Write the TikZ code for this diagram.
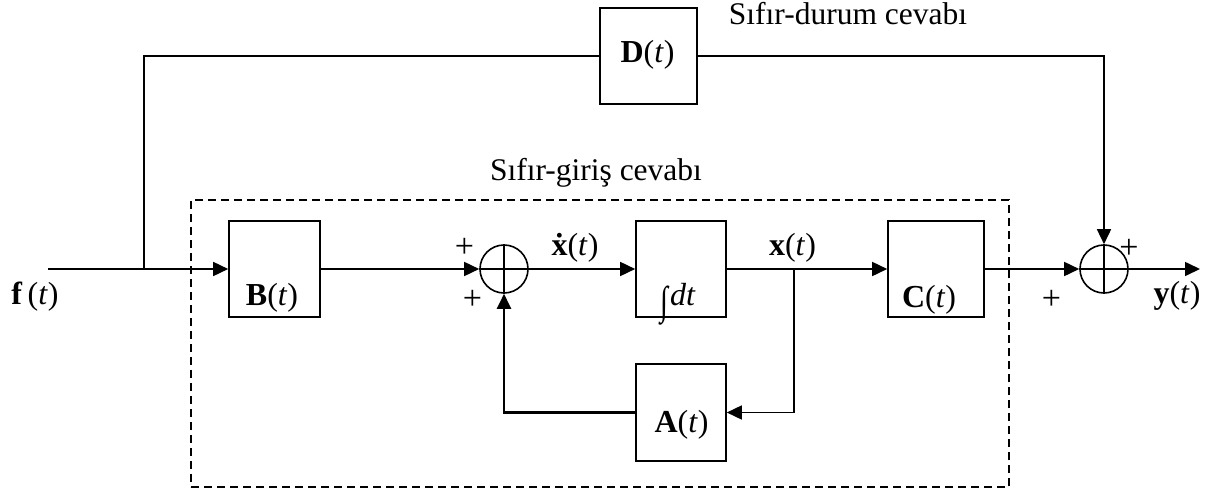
\documentclass[tikz,border=0pt]{standalone}
\usepackage{graphicx}
\usepackage{fontspec}
\setmainfont{Liberation Serif}
\usetikzlibrary{arrows.meta}
\begin{document}
\begin{tikzpicture}[x=1pt,y=-1pt,
  blk/.style={draw,line width=1.6pt,inner sep=0pt,minimum height=96pt},
  sumnode/.style={draw,circle,line width=1.6pt,minimum size=48pt,inner sep=0pt},
  lbl/.style={font=\fontsize{32}{38}\selectfont,inner sep=0pt,anchor=base},
  captext/.style={font=\fontsize{31.5}{38}\selectfont,inner sep=0pt,anchor=base},
  sgn/.style={font=\fontsize{34}{40}\selectfont,inner sep=0pt},
  wire/.style={line width=1.6pt},
  arr/.style={wire,-{Triangle[length=15pt,width=14pt]}},
  ]
\useasboundingbox (0,0) rectangle (1210,495);

% dashed frame
\node[draw,line width=1.2pt,dash pattern=on 8pt off 5pt,minimum width=818pt,minimum height=287pt,inner sep=0pt] (frame) at (600,343.5) {};

% blocks
\node[blk,minimum width=97pt] (D) at (648.5,56) {};
\node[blk,minimum width=91pt] (B) at (274.5,269) {};
\node[blk,minimum width=90pt] (I) at (681,269) {};
\node[blk,minimum width=96pt] (C) at (936,269) {};
\node[blk,minimum width=90pt,minimum height=97pt] (A) at (681,412.5) {};

% summing junctions
\node[sumnode] (s1) at (504,269) {};
\node[sumnode] (s2) at (1104,269) {};
\draw[wire] (s1.north) -- (s1.south) (s1.west) -- (s1.east);
\draw[wire] (s2.north) -- (s2.south) (s2.west) -- (s2.east);

% block texts
\node[lbl] (Dt) at (647.5,63) {\textbf{D}(\textit{t})};
\node[lbl] (Bt) at (272,305) {\textbf{B}(\textit{t})};
\node[lbl] (It) at (678,305) {\raisebox{-9pt}{\scalebox{0.9}[1.25]{∫}}\kern2pt\textit{dt}};
\node[lbl] (At) at (681.5,432) {\textbf{A}(\textit{t})};
\node[lbl] (Ct) at (929,307) {\textbf{C}(\textit{t})};

% signal labels
\node[lbl] (ft) at (35,304) {\textbf{f}\,(\textit{t})};
\node[lbl] (xdt) at (575,255) {\textbf{\.{x}}(\textit{t})};
\node[lbl] (xt) at (792.5,255) {\textbf{x}(\textit{t})};
\node[lbl] (yt) at (1177,303) {\textbf{y}(\textit{t})};

% captions
\node[captext] (zs) at (848,25) {Sıfır-durum cevabı};
\node[captext] (zi) at (596,180) {Sıfır-giriş cevabı};

% signs
\node[sgn] (p1) at (464.5,247.5) {+};
\node[sgn] (p2) at (472.5,300) {+};
\node[sgn] (p3) at (1129,248.5) {+};
\node[sgn] (p4) at (1051.5,299.5) {+};

% connectors
\coordinate (fin) at (48,269);
\coordinate (br1) at (144,269);
\coordinate (br2) at (794,269);
\coordinate (yout) at (1200,269);
\draw[arr] (fin) -- (B.west);
\draw[wire] (br1) |- (D.west);
\draw[arr] (D.east) -| (s2.north);
\draw[arr] (B.east) -- (s1.west);
\draw[arr] (s1.east) -- (I.west);
\draw[arr] (I.east) -- (C.west);
\draw[arr] (br2) |- (A.east);
\draw[arr,line width=2.2pt] (A.west) -| (s1.south);
\draw[arr] (C.east) -- (s2.west);
\draw[arr] (s2.east) -- (yout);
\end{tikzpicture}
\end{document}
